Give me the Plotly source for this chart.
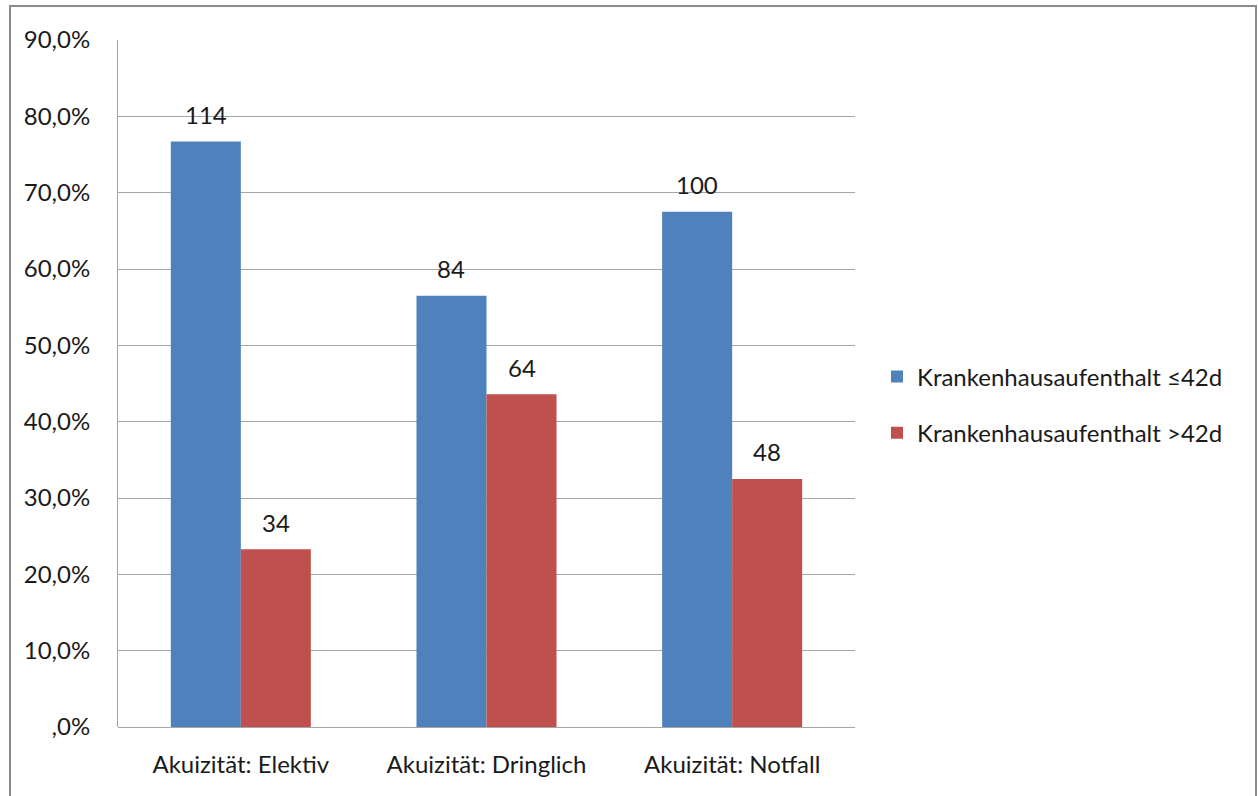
import plotly.graph_objects as go

# Acuity categories and patient counts per length-of-stay group
categories = ["Akuizität: Elektiv", "Akuizität: Dringlich", "Akuizität: Notfall"]
series_names = ["Krankenhausaufenthalt ≤42d", "Krankenhausaufenthalt >42d"]
counts_short = [114, 84, 100]
counts_long = [34, 64, 48]
# Share of patients per category (percent)
share_short = [76.7, 56.5, 67.5]
share_long = [23.3, 43.6, 32.5]

y_tick_vals = [0, 10, 20, 30, 40, 50, 60, 70, 80, 90]
y_tick_text = [",0%", "10,0%", "20,0%", "30,0%", "40,0%", "50,0%",
               "60,0%", "70,0%", "80,0%", "90,0%"]

BLUE = "#4f81bd"
RED = "#c0504d"
GRID = "#a6a6a6"
FONT = "Lato"
FS = 24
TEXT = "#1a1a1a"

W, H = 1258, 796
M_L, M_R, M_T, M_B = 118, 403, 40, 69
plot_w = W - M_L - M_R
plot_h = H - M_T - M_B

fig = go.Figure()
fig.add_trace(go.Bar(x=categories, y=share_short, name=series_names[0],
                     marker=dict(color=BLUE, line=dict(width=0)),
                     legendgroup="a"))
fig.add_trace(go.Bar(x=categories, y=share_long, name=series_names[1],
                     marker=dict(color=RED, line=dict(width=0)),
                     legendgroup="b"))

bargap = 0.43
bar_px = plot_w / len(categories) * (1 - bargap) / 2

# Count labels above each bar
annotations = []
for cat, v, n in zip(categories, share_short, counts_short):
    annotations.append(dict(x=cat, y=v, text=str(n), showarrow=False,
                            xshift=-bar_px / 2, yshift=27, yanchor="middle",
                            font=dict(family=FONT, size=FS, color=TEXT)))
for cat, v, n in zip(categories, share_long, counts_long):
    annotations.append(dict(x=cat, y=v, text=str(n), showarrow=False,
                            xshift=bar_px / 2, yshift=27, yanchor="middle",
                            font=dict(family=FONT, size=FS, color=TEXT)))

fig.update_layout(
    width=W, height=H,
    margin=dict(l=M_L, r=M_R, t=M_T, b=M_B, pad=0),
    paper_bgcolor="white", plot_bgcolor="white",
    barmode="group", bargap=bargap, bargroupgap=0,
    font=dict(family=FONT, size=FS, color=TEXT),
    showlegend=True,
    legend=dict(x=1.0 + (877 - 855) / plot_w, xanchor="left",
                y=(727 - 405) / plot_h, yanchor="middle", tracegroupgap=22,
                font=dict(family=FONT, size=FS, color=TEXT),
                bgcolor="rgba(0,0,0,0)"),
    xaxis=dict(showgrid=False, showline=False, ticks="",
               ticklabelstandoff=21, zeroline=False,
               tickfont=dict(family=FONT, size=FS, color=TEXT)),
    yaxis=dict(range=[0, 90], tickvals=y_tick_vals, ticktext=y_tick_text,
               showgrid=True, gridcolor=GRID, gridwidth=1,
               showline=True, linecolor=GRID, linewidth=1,
               zeroline=True, zerolinecolor=GRID, zerolinewidth=1,
               ticks="", ticklabelstandoff=22,
               tickfont=dict(family=FONT, size=FS, color=TEXT)),
    annotations=annotations,
    shapes=[dict(type="rect", xref="paper", yref="paper",
                 x0=(10 - M_L) / plot_w, x1=(1256 - M_L) / plot_w,
                 y0=-0.2, y1=1 + (M_T - 6) / plot_h,
                 line=dict(color="#8c8c8c", width=2), layer="below")],
)

fig.write_html("out.html")
